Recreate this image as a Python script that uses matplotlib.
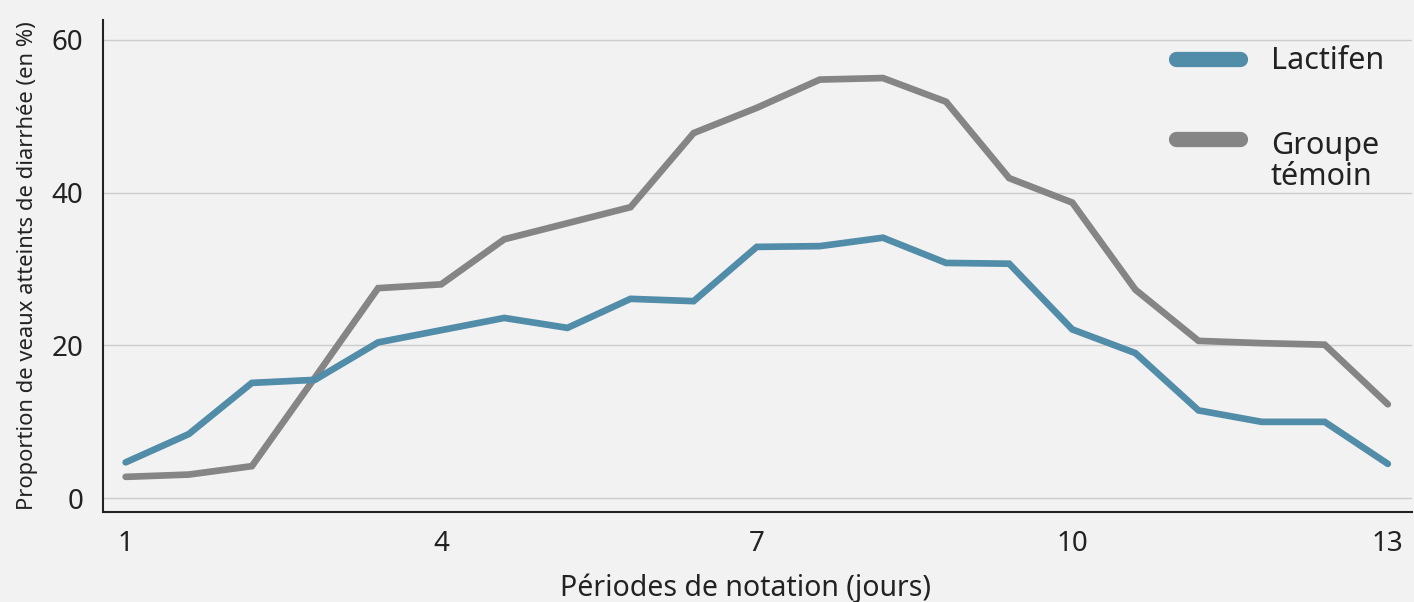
import numpy as np
import matplotlib.pyplot as plt
from matplotlib.lines import Line2D
from matplotlib.legend_handler import HandlerLine2D

# Data (21 scoring points between day 1 and day 13)
periods = [1 + 0.6 * i for i in range(21)]
lactifen = [4.7, 8.4, 15.1, 15.5, 20.4, 22.0, 23.6, 22.3, 26.1, 25.8, 32.9,
            33.0, 34.1, 30.8, 30.7, 22.1, 19.0, 11.5, 10.0, 10.0, 4.5]
temoin = [2.8, 3.1, 4.2, 15.8, 27.5, 28.0, 33.9, 36.0, 38.1, 47.8, 51.1,
          54.8, 55.0, 51.9, 41.9, 38.7, 27.3, 20.6, 20.3, 20.1, 12.3]
xticks = [1, 4, 7, 10, 13]
yticks = [0, 20, 40, 60]
labels = ["Lactifen", "Groupe\ntémoin"]

blue = "#518ca8"
grey = "#858585"
bg = "#f2f2f2"
ink = "#222222"

plt.rcParams['font.family'] = ['Noto Sans', 'DejaVu Sans']


class TopLine(HandlerLine2D):
    # keep the legend line level with the first row of a two-line label
    def create_artists(self, legend, orig_handle, xdescent, ydescent, width, height, fontsize, trans):
        arts = super().create_artists(legend, orig_handle, xdescent, ydescent, width, height, fontsize, trans)
        for a in arts:
            a.set_ydata(np.asarray(a.get_ydata()) + 0.78 * fontsize)
        return arts


fig = plt.figure(figsize=(14.14, 6.02), dpi=100, facecolor=bg)
ax = fig.add_axes([0.0728, 0.1495, 0.9258, 0.8173])
ax.set_facecolor(bg)

ax.plot(periods, lactifen, color=blue, lw=4.8, solid_joinstyle='miter', solid_capstyle='round', zorder=3)
ax.plot(periods, temoin, color=grey, lw=4.8, solid_joinstyle='miter', solid_capstyle='round', zorder=2)

ax.set_xlim(0.784, 13.23)
ax.set_ylim(-1.8, 62.6)
ax.set_xticks(xticks)
ax.set_yticks(yticks)
ax.tick_params(length=0, labelsize=20, colors=ink)
ax.tick_params(axis='x', pad=13)
ax.tick_params(axis='y', pad=14)
ax.grid(axis='y', color="#cccccc", lw=1)
ax.set_axisbelow(True)

for s in ['top', 'right']:
    ax.spines[s].set_visible(False)
for s in ['left', 'bottom']:
    ax.spines[s].set_color(ink)
    ax.spines[s].set_linewidth(1.5)

ax.set_xlabel("Périodes de notation (jours)", fontsize=20.5, color=ink)
ax.xaxis.set_label_coords(0.4905, -0.125)
ax.set_ylabel("Proportion de veaux atteints de diarrhée (en %)", fontsize=15.8, color=ink, labelpad=10)

h1 = Line2D([], [], color=blue, lw=11, solid_capstyle='round')
h2 = Line2D([], [], color=grey, lw=11, solid_capstyle='round')
leg = ax.legend([h1, h2], labels, loc='upper right', bbox_to_anchor=(0.995, 0.99),
                frameon=False, fontsize=22, handlelength=2.1, handletextpad=1.0,
                labelspacing=1.8, borderaxespad=0.3, handler_map={h2: TopLine()})
for t in leg.get_texts():
    t.set_color(ink)
    t.set_linespacing(1.05)

fig.savefig("out.png", dpi=100, facecolor=bg)
